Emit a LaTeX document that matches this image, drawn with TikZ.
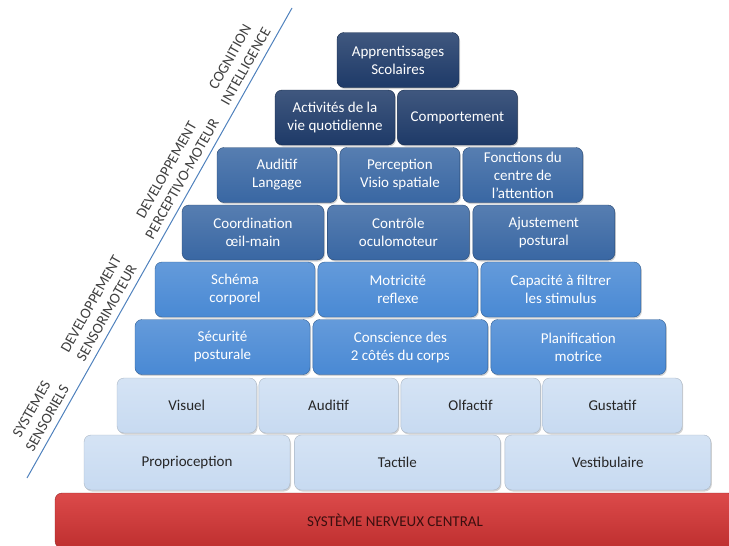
\documentclass[tikz,border=0pt]{standalone}
\usepackage{fontspec}
\setmainfont{Carlito}
\usetikzlibrary{positioning, shadows}

\definecolor{navyblue}{RGB}{30,58,104}
\definecolor{steelblue}{RGB}{57,103,163}
\definecolor{skyblue}{RGB}{73,137,212}
\definecolor{paleblue}{RGB}{199,218,241}
\definecolor{cnsred}{RGB}{216,54,54}
\definecolor{cnstext}{RGB}{60,15,15}
\definecolor{slopeline}{RGB}{79,129,189}
\definecolor{labelgray}{RGB}{64,64,64}

\tikzset{
    box/.style={rounded corners=7pt, minimum height=55pt, align=center, inner sep=2pt,
        font=\fontsize{15}{18}\selectfont,
        drop shadow={opacity=0.35, shadow xshift=1pt, shadow yshift=-1.5pt}},
    navybox/.style={box, draw=navyblue!70!black, top color=navyblue!85!white, bottom color=navyblue, text=white},
    steelbox/.style={box, draw=steelblue!70!black, top color=steelblue!85!white, bottom color=steelblue, text=white},
    skybox/.style={box, draw=skyblue!70!black, top color=skyblue!85!white, bottom color=skyblue, text=white},
    palebox/.style={box, draw=paleblue!60!gray, top color=paleblue!75!white, bottom color=paleblue, text=black!85},
    cnsbox/.style={box, draw=cnsred!70!black, top color=cnsred!90!white, bottom color=cnsred!88!black, text=cnstext},
    slopelabel/.style={sloped, above=3pt, align=center, text=labelgray, font=\fontsize{15}{18}\selectfont}
}

\begin{document}
\begin{tikzpicture}[x=1pt, y=-1pt]
    \useasboundingbox (0,0) rectangle (729,546);
    \clip (0,0) rectangle (729,546);

    \node[navybox, minimum width=122pt] (R1a) at (398,60) {Apprentissages\\Scolaires};

    \node[navybox, minimum width=120pt] (R2a) at (335,117.5) {Activités de la\\vie quotidienne};
    \node[navybox, minimum width=120pt, right=2pt of R2a] (R2b) {Comportement};

    \node[steelbox, minimum width=120pt] (R3a) at (277,175) {Auditif\\Langage};
    \node[steelbox, minimum width=120pt, right=2.5pt of R3a] (R3b) {Perception\\Visio spatiale};
    \node[steelbox, minimum width=120pt, right=2.5pt of R3b] (R3c) {Fonctions du\\centre de\\l’attention};

    \node[steelbox, minimum width=142pt] (R4a) at (253,232.5) {Coordination\\œil-main};
    \node[steelbox, minimum width=142pt, right=3pt of R4a] (R4b) {Contrôle\\oculomoteur};
    \node[steelbox, minimum width=142pt, right=3pt of R4b] (R4c) {Ajustement\\postural};

    \node[skybox, minimum width=160pt] (R5a) at (235,289.5) {Schéma\\corporel};
    \node[skybox, minimum width=160pt, right=2.5pt of R5a] (R5b) {Motricité\\reflexe};
    \node[skybox, minimum width=160pt, right=2.5pt of R5b] (R5c) {Capacité à filtrer\\les stimulus};

    \node[skybox, minimum width=175pt] (R6a) at (222.5,347) {Sécurité\\posturale};
    \node[skybox, minimum width=175pt, right=2.5pt of R6a] (R6b) {Conscience des\\2 côtés du corps};
    \node[skybox, minimum width=175pt, right=2.5pt of R6b] (R6c) {Planification\\motrice};

    \node[palebox, minimum width=139.5pt] (R7a) at (186.75,405.5) {Visuel};
    \node[palebox, minimum width=139.5pt, right=2pt of R7a] (R7b) {Auditif};
    \node[palebox, minimum width=139.5pt, right=2pt of R7b] (R7c) {Olfactif};
    \node[palebox, minimum width=139.5pt, right=2pt of R7c] (R7d) {Gustatif};

    \node[palebox, minimum width=206pt] (R8a) at (187,462.5) {Proprioception};
    \node[palebox, minimum width=206pt, right=4pt of R8a] (R8b) {Tactile};
    \node[palebox, minimum width=206pt, right=4pt of R8b] (R8c) {Vestibulaire};

    \node[cnsbox, minimum width=680pt, minimum height=55pt] (CNS) at (395,520.5) {SYSTÈME NERVEUX CENTRAL};

    \coordinate (Lbot) at (27,478);
    \coordinate (Ltop) at (292,8);
    \draw[slopeline, line width=1pt] (Lbot) -- (Ltop)
        node[slopelabel, pos=0.115] {SYSTEMES\\SENSORIELS}
        node[slopelabel, pos=0.339] {DEVELOPPEMENT\\SENSORIMOTEUR}
        node[slopelabel, pos=0.624] {DEVELOPPEMENT\\PERCEPTIVO-MOTEUR}
        node[slopelabel, pos=0.864] {COGNITION\\INTELLIGENCE};
\end{tikzpicture}
\end{document}
